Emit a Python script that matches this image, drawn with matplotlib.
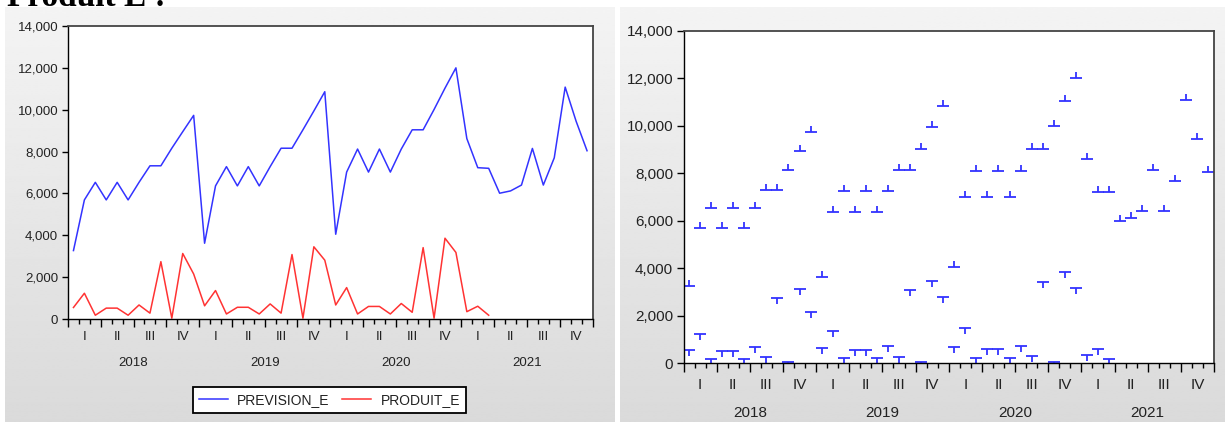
import numpy as np
import matplotlib
matplotlib.use('Agg')
import matplotlib.pyplot as plt
from matplotlib.lines import Line2D
from matplotlib.ticker import StrMethodFormatter
from matplotlib.transforms import blended_transform_factory, offset_copy

plt.rcParams['font.family'] = ['Liberation Sans', 'DejaVu Sans']

# monthly series, Jan 2018 - Dec 2021
years = ['2018', '2019', '2020', '2021']
quarters = ['I', 'II', 'III', 'IV']

prevision_e = [3270, 5690, 6530, 5690, 6530, 5690, 6530, 7320, 7320, 8160, 8950, 9730,
               3620, 6360, 7280, 6360, 7280, 6360, 7280, 8160, 8160, 9040, 9940, 10860,
               4050, 7020, 8120, 7020, 8120, 7020, 8120, 9040, 9040, 10010, 11030, 12000,
               8620, 7230, 7200, 6010, 6120, 6400, 8150, 6400, 7700, 11080, 9450, 8040]
produit_e = [550, 1230, 180, 520, 520, 180, 670, 280, 2740, 40, 3130, 2150,
             630, 1360, 240, 560, 560, 240, 720, 280, 3080, 40, 3450, 2810,
             670, 1500, 240, 600, 600, 240, 740, 320, 3410, 40, 3860, 3180,
             350, 610, 180] + [np.nan] * 9

BLUE = '#3333ff'
RED = '#ff3333'
W, H = 1225, 422

fig = plt.figure(figsize=(W / 100, H / 100), dpi=100)
fig.patch.set_facecolor('white')


def fx(px):
    return px / W


def fy(px):
    return 1 - px / H


def panel(x0, x1, y0):
    bg = fig.add_axes([fx(x0), 0, fx(x1 - x0), (H - y0) / H], zorder=0)
    shade = np.linspace(0.955, 0.855, 200).reshape(-1, 1)
    bg.imshow(shade, cmap='gray', vmin=0, vmax=1, aspect='auto',
              extent=(0, 1, 0, 1), interpolation='bilinear')
    bg.set_axis_off()


def setup_axes(ax, fs, ylen, qoff, yoff, maj, mnr):
    x = np.arange(len(prevision_e))
    ax.set_xlim(0, len(prevision_e))
    ax.set_ylim(0, 14000)
    ax.set_yticks(np.arange(0, 14001, 2000))
    ax.yaxis.set_major_formatter(StrMethodFormatter('{x:,.0f}'))
    ax.set_xticks(np.arange(0, len(x) + 1, 3))
    ax.set_xticks(np.arange(0, len(x) + 1), minor=True)
    ax.set_xticklabels([])
    ax.tick_params(axis='y', direction='out', length=ylen, width=1, pad=2.5,
                   labelsize=fs, labelcolor='#222222', right=False)
    ax.tick_params(axis='x', which='major', direction='out', length=maj, width=1)
    ax.tick_params(axis='x', which='minor', direction='out', length=mnr, width=1)
    for side in ['left', 'bottom']:
        ax.spines[side].set_color('black')
        ax.spines[side].set_linewidth(1)
    for side in ['top', 'right']:
        ax.spines[side].set_color('#444444')
        ax.spines[side].set_linewidth(1.3)

    trans = blended_transform_factory(ax.transData, ax.transAxes)
    qtrans = offset_copy(trans, fig=fig, y=-qoff, units='dots')
    ytrans = offset_copy(trans, fig=fig, y=-yoff, units='dots')
    for i, yr in enumerate(years):
        for j, q in enumerate(quarters):
            ax.text(12 * i + 3 * j + 1.5, 0, q, transform=qtrans, ha='center',
                    va='center', fontsize=fs, color='#222222')
        ax.text(12 * i + 6, 0, yr, transform=ytrans, ha='center', va='center',
                fontsize=fs, color='#222222')
    return x + 0.5


# left panel: line chart
panel(5, 615, 7)
ax1 = fig.add_axes([fx(68), fy(319), fx(592.5 - 68), (319 - 26) / H], zorder=2)
xm = setup_axes(ax1, 9.5, 4.5, 17.7, 44.5, 6, 3.8)
ax1.plot(xm, prevision_e, color=BLUE, lw=1.1)
ax1.plot(xm, produit_e, color=RED, lw=1.1)

handles = [Line2D([], [], color=BLUE, lw=1.1), Line2D([], [], color=RED, lw=1.1)]
leg = ax1.legend(handles, ['PREVISION_E', 'PRODUIT_E'], loc='center',
                 bbox_to_anchor=(fx(329.5), fy(400)), bbox_transform=fig.transFigure,
                 ncol=2, fontsize=10, frameon=True, fancybox=False, framealpha=1,
                 edgecolor='black', handlelength=2.1, handletextpad=0.65,
                 columnspacing=0.9, borderpad=0.45, borderaxespad=0)
leg.get_frame().set_linewidth(1.3)
for t in leg.get_texts():
    t.set_color('#222222')

# right panel: high-low markers
panel(620, 1225, 7)
ax2 = fig.add_axes([fx(683.5), fy(363.3), fx(1214 - 683.5), (363.3 - 31) / H], zorder=2)
xm = setup_axes(ax2, 11, 5, 22, 50, 6.5, 3.8)
ax2.plot(xm, prevision_e, ls='none', marker='_', ms=8, mew=1.3, color=BLUE)
ax2.plot(xm, prevision_e, ls='none', marker=2, ms=4, mew=1.3, color=BLUE)
ax2.plot(xm, produit_e, ls='none', marker='_', ms=8, mew=1.3, color=BLUE)
ax2.plot(xm, produit_e, ls='none', marker=3, ms=4, mew=1.3, color=BLUE)

# heading, mostly above the top edge
fig.text(fx(7), fy(5.5), 'Produit E :', fontsize=24, fontweight='bold',
         family=['Liberation Serif', 'DejaVu Serif'], ha='left', va='baseline')

fig.savefig('out.png', dpi=100)
